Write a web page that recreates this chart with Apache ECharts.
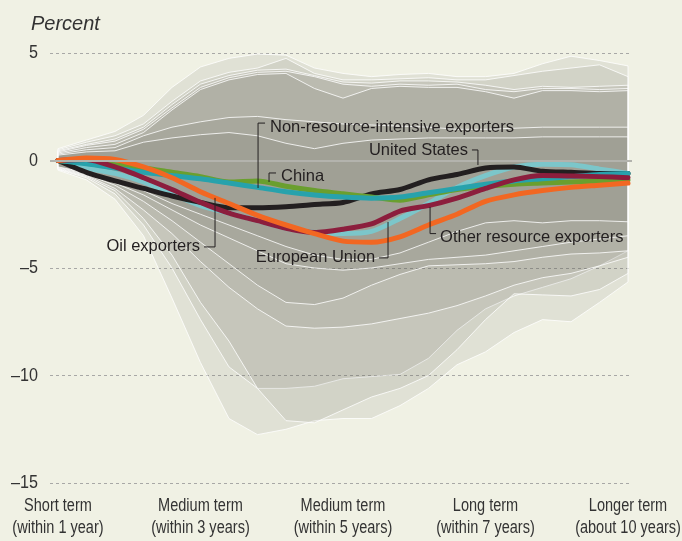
<!DOCTYPE html>
<html>
<head>
<meta charset="utf-8">
<script src="https://cdn.jsdelivr.net/npm/echarts@6/dist/echarts.min.js"></script>
<style>
html,body{margin:0;padding:0;background:#f0f1e4;}
#main{width:682px;height:541px;}
</style>
</head>
<body>
<div id="main"></div>
<script>
// x positions (quarters after shock), 0..40
const xs = [0,2,4,6,8,10,12,14,16,18,20,22,24,26,28,30,32,34,36,38,40];
const xTickValues = [0,10,20,30,40];
const xTickLabels = ['Short term\n(within 1 year)','Medium term\n(within 3 years)','Medium term\n(within 5 years)','Long term\n(within 7 years)','Longer term\n(about 10 years)'];
const yTickValues = [5,0,-5,-10,-15];

// Group lines (percent)
const unitedStates = [0,-0.55,-0.95,-1.3,-1.65,-1.95,-2.2,-2.2,-2.15,-2.05,-1.95,-1.55,-1.35,-0.9,-0.65,-0.35,-0.3,-0.5,-0.55,-0.6,-0.6];
const nonResource  = [0,-0.15,-0.35,-0.55,-0.7,-0.85,-1.05,-1.25,-1.45,-1.6,-1.7,-1.75,-1.7,-1.5,-1.3,-1.1,-0.95,-0.85,-0.75,-0.65,-0.6];
const china        = [0,-0.1,-0.2,-0.35,-0.55,-0.75,-1.0,-0.95,-1.2,-1.4,-1.55,-1.7,-1.85,-1.6,-1.35,-1.2,-1.1,-1.05,-1.0,-0.95,-0.9];
const oilExporters = [0,0.12,0.05,-0.3,-0.8,-1.45,-2.0,-2.55,-3.0,-3.4,-3.75,-3.8,-3.55,-3.0,-2.5,-1.9,-1.6,-1.4,-1.25,-1.15,-1.05];
const otherResource= [0,0.05,-0.3,-0.8,-1.35,-1.95,-2.45,-2.8,-3.15,-3.35,-3.2,-2.95,-2.35,-2.1,-1.75,-1.3,-0.9,-0.7,-0.72,-0.75,-0.8];
const europeanUnion= [0,-0.35,-0.6,-1.0,-1.55,-2.1,-2.45,-2.8,-3.15,-3.35,-3.4,-3.3,-2.7,-2.0,-1.25,-0.7,-0.3,-0.17,-0.2,-0.4,-0.6];

// Fan bands: upper and lower bounds
const upper1 = [0.55,0.95,1.35,2.1,3.4,4.35,4.75,4.95,4.9,4.3,4.05,3.9,4.0,4.05,3.9,3.9,4.05,4.5,4.85,4.65,4.4];
const upper2 = [0.5,0.85,1.15,1.7,2.75,3.7,4.1,4.3,4.75,4.05,3.75,3.75,3.8,3.85,3.75,3.75,3.95,4.15,4.3,4.45,3.9];
const upper3 = [0.45,0.75,1.0,1.55,2.6,3.55,3.95,4.2,4.25,3.95,3.65,3.6,3.7,3.7,3.65,3.5,3.3,3.45,3.4,3.45,3.5];
const upper4 = [0.4,0.7,0.9,1.45,2.45,3.4,3.85,4.1,4.15,3.9,3.55,3.45,3.55,3.5,3.55,3.3,3.2,3.35,3.35,3.3,3.35];
const upper5 = [0.35,0.6,0.75,1.3,2.35,3.3,3.75,4.0,4.05,3.35,2.9,3.35,3.45,3.4,3.4,3.2,2.9,3.25,3.25,3.2,3.25];
const upper6 = [0.3,0.5,0.6,1.15,1.55,1.8,2.0,2.05,1.9,1.8,1.7,1.65,1.6,1.55,1.45,1.45,1.5,1.55,1.55,1.55,1.55];
const upper7 = [0.25,0.4,0.45,0.85,1.05,1.2,1.3,1.15,0.8,0.55,0.8,0.95,1.0,1.05,1.05,1.05,1.05,1.1,1.1,1.1,1.1];

const lower1 = [-0.45,-0.9,-1.8,-3.5,-6.4,-9.4,-12.0,-12.75,-12.5,-12.1,-12.0,-12.0,-11.4,-10.6,-9.5,-8.9,-8.0,-7.4,-7.5,-6.6,-5.65];
const lower2 = [-0.42,-0.8,-1.55,-3.0,-5.0,-7.4,-9.6,-10.6,-10.6,-10.5,-10.15,-10.05,-9.95,-9.2,-7.9,-6.9,-6.3,-5.9,-5.5,-4.9,-4.2];
const lower3 = [-0.4,-0.75,-1.4,-2.7,-4.4,-6.6,-8.4,-10.6,-12.1,-12.2,-11.6,-11.0,-10.6,-10.0,-8.8,-7.4,-6.2,-6.25,-6.3,-6.0,-5.25];
const lower4 = [-0.38,-0.7,-1.3,-2.3,-3.4,-4.7,-5.9,-6.9,-7.7,-7.8,-7.75,-7.6,-7.35,-7.1,-6.75,-6.3,-5.8,-5.45,-5.25,-4.9,-4.5];
const lower5 = [-0.35,-0.65,-1.15,-1.9,-2.8,-3.8,-4.8,-5.8,-6.6,-6.7,-6.4,-5.8,-5.3,-4.9,-4.85,-4.8,-4.7,-4.5,-4.35,-4.3,-4.2];
const lower6 = [-0.32,-0.6,-1.05,-1.6,-2.3,-3.0,-3.6,-4.2,-4.8,-5.0,-5.1,-5.0,-4.8,-4.6,-4.5,-4.4,-4.2,-4.0,-3.8,-3.65,-3.5];
const lower7 = [-0.3,-0.55,-0.95,-1.4,-2.0,-2.5,-3.0,-3.5,-4.0,-4.4,-4.6,-4.6,-4.3,-3.8,-3.3,-2.9,-2.8,-2.9,-2.8,-2.8,-2.85];

const bandUppers = [upper1,upper2,upper3,upper4,upper5,upper6,upper7];
const bandLowers = [lower1,lower2,lower3,lower4,lower5,lower6,lower7];

const labelFont = "'Liberation Sans', Arial, sans-serif";

const chart = echarts.init(document.getElementById('main'), null, {renderer:'canvas'});

function bandSeries(up, lo) {
  return {
    type: 'custom',
    coordinateSystem: 'cartesian2d',
    silent: true,
    z: 1,
    data: [[xs[0], lo[0], up[0]]],
    encode: {x: 0, y: [1, 2]},
    renderItem: function (params, api) {
      const pts = [];
      for (let i = 0; i < xs.length; i++) pts.push(api.coord([xs[i], up[i]]));
      for (let i = xs.length - 1; i >= 0; i--) pts.push(api.coord([xs[i], lo[i]]));
      return {
        type: 'polygon',
        shape: {points: pts},
        style: {fill: 'rgba(98,98,95,0.108)', stroke: 'rgba(255,255,255,0.8)', lineWidth: 1}
      };
    }
  };
}

function lineSeries(name, arr, color) {
  return {
    name: name,
    type: 'line',
    z: 3,
    data: xs.map((x, i) => [x, arr[i]]),
    showSymbol: false,
    smooth: 0.25,
    silent: true,
    lineStyle: {color: color, width: 5, cap: 'round', join: 'round'}
  };
}

const series = bandUppers.map((u, i) => bandSeries(u, bandLowers[i]));
series.push({
  type: 'line', z: 2, data: [], silent: true,
  markLine: {silent: true, symbol: 'none', label: {show: false},
    lineStyle: {color: '#b3b3ad', width: 2, type: 'solid'},
    data: [{yAxis: 0}], animation: false}
});
series.push(lineSeries('European Union', europeanUnion, '#7cc6ca'));
series.push(lineSeries('United States', unitedStates, '#231f20'));
series.push(lineSeries('China', china, '#6a9f2e'));
series.push(lineSeries('Non-resource-intensive exporters', nonResource, '#27a2ac'));
series.push(lineSeries('Other resource exporters', otherResource, '#8c1e3d'));
series.push(lineSeries('Oil exporters', oilExporters, '#f26722'));

chart.setOption({
  animation: false,
  backgroundColor: '#f0f1e4',
  title: {text: 'Percent', left: 26, top: 9,
    textStyle: {fontStyle: 'italic', fontWeight: 'normal', fontSize: 20, color: '#333', fontFamily: labelFont}},
  grid: {left: 50, right: 50, top: 53, bottom: 58, containLabel: false, outerBoundsMode: 'none'},
  xAxis: {
    type: 'value', min: -0.56, max: 40.28,
    axisLine: {show: false}, axisTick: {show: false}, splitLine: {show: false},
    axisLabel: {show: false}
  },
  yAxis: {
    type: 'value', min: -15, max: 5, interval: 5,
    axisLine: {show: false}, axisTick: {show: false},
    splitLine: {lineStyle: {color: '#a8a8a6', width: 1, type: [3, 3]}},
    axisLabel: {show: false}
  },
  series: series
});

const graphics = [];
// Tick labels (condensed look via horizontal scale)
xTickValues.forEach((v, i) => {
  const p = chart.convertToPixel({gridIndex: 0}, [v, -15]);
  graphics.push({type: 'text', silent: true, x: p[0], y: p[1] + 12, scaleX: 0.83,
    style: {text: xTickLabels[i], fill: '#333', font: "17.5px " + labelFont, lineHeight: 22,
      textAlign: 'center', textVerticalAlign: 'top'}});
});
yTickValues.forEach(v => {
  const p = chart.convertToPixel({gridIndex: 0}, [-0.56, v]);
  graphics.push({type: 'text', silent: true, x: p[0] - 12, y: p[1], scaleX: 0.85,
    style: {text: v < 0 ? '\u2013' + Math.abs(v) : String(v), fill: '#333', font: "19px " + labelFont,
      textAlign: 'right', textVerticalAlign: 'middle'}});
});

// Annotations in data coordinates
const annotations = [
  {text: 'Non-resource-intensive exporters', path: [[14.04,-1.28],[14.04,1.74],[14.53,1.74]], at: [14.88,1.56], align: 'left'},
  {text: 'China', path: [[14.81,-1.0],[14.81,-0.58],[15.3,-0.58]], at: [15.65,-0.72], align: 'left'},
  {text: 'United States', path: [[29.47,-0.21],[29.47,0.49],[29.05,0.49]], at: [28.77,0.49], align: 'right'},
  {text: 'Oil exporters', path: [[11.02,-1.74],[11.02,-4.02],[10.25,-4.02]], at: [9.96,-4.02], align: 'right'},
  {text: 'European Union', path: [[23.16,-2.86],[23.16,-4.53],[22.53,-4.53]], at: [22.25,-4.53], align: 'right'},
  {text: 'Other resource exporters', path: [[26.11,-2.16],[26.11,-3.4],[26.53,-3.4]], at: [26.81,-3.56], align: 'left'}
];
annotations.forEach(a => {
  const pts = a.path.map(p => chart.convertToPixel({gridIndex: 0}, p));
  graphics.push({type: 'polyline', silent: true, z: 10, shape: {points: pts}, style: {stroke: '#231f20', lineWidth: 1, fill: null}});
  const t = chart.convertToPixel({gridIndex: 0}, a.at);
  graphics.push({type: 'text', silent: true, z: 10, x: t[0], y: t[1],
    style: {text: a.text, fill: '#231f20', font: "16.5px " + labelFont, textAlign: a.align, textVerticalAlign: 'middle'}});
});
chart.setOption({graphic: graphics});
</script>
</body>
</html>
